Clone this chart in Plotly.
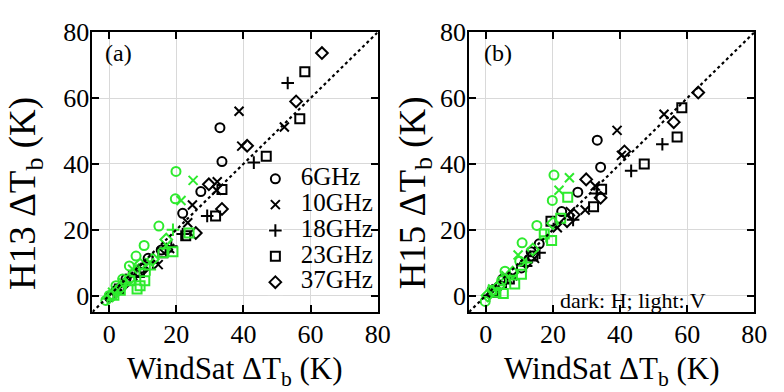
import plotly.graph_objects as go

# ---------------- data ----------------
FREQS = ["6GHz", "10GHz", "18GHz", "23GHz", "37GHz"]
SYMBOLS = ["circle-open", "x-thin-open", "cross-thin-open", "square-open", "diamond-open"]

# Panel (a): H13 vs WindSat, dark = H polarization
a_h_x = {
    "6GHz":  [33.0, 33.6, 27.3, 21.9, 15.5, 11.6, 9.7, 5.0, 2.0, 0.0],
    "10GHz": [38.7, 52.2, 39.5, 32.2, 32.0, 24.8, 23.4, 18.0, 14.6, 7.0, 3.0],
    "18GHz": [53.2, 43.1, 29.2, 21.9, 18.5, 13.0, 8.0, 2.0],
    "23GHz": [58.3, 56.8, 46.8, 33.6, 31.7, 22.8, 16.0, 9.0, 3.0],
    "37GHz": [63.4, 55.7, 41.1, 29.7, 33.6, 25.8, 17.0, 10.0, 4.0],
}
a_h_y = {
    "6GHz":  [51.0, 40.7, 31.6, 25.0, 13.8, 11.3, 8.4, 5.0, 1.5, -0.5],
    "10GHz": [56.0, 51.2, 45.4, 34.6, 32.0, 27.5, 22.1, 14.3, 9.4, 6.0, 2.0],
    "18GHz": [64.6, 40.4, 24.2, 18.7, 15.0, 10.0, 6.0, 1.0],
    "23GHz": [68.0, 53.7, 42.3, 32.2, 24.2, 18.2, 13.0, 7.0, 2.0],
    "37GHz": [73.7, 59.0, 45.5, 33.8, 26.3, 19.0, 14.0, 8.0, 3.0],
}
# Panel (a): light = V polarization
a_v_x = {
    "6GHz":  [19.9, 19.7, 14.8, 10.4, 8.0, 6.0, 4.0, 2.0, 0.0, -1.0],
    "10GHz": [25.0, 21.4, 17.0, 12.0, 7.0, 4.0, 1.0],
    "18GHz": [12.1, 19.0, 9.0, 5.0, 2.0, -0.5],
    "23GHz": [23.8, 19.0, 16.0, 10.6, 9.2, 8.3, 6.2, 3.3, 1.4],
    "37GHz": [17.0, 13.0, 9.2, 6.0, 3.0, 1.0],
}
a_v_y = {
    "6GHz":  [37.7, 29.4, 21.1, 15.2, 12.0, 9.0, 5.0, 3.0, 0.0, -1.5],
    "10GHz": [35.0, 28.9, 15.2, 10.0, 8.0, 4.0, 1.0],
    "18GHz": [7.9, 20.0, 8.0, 4.0, 1.0, -1.0],
    "23GHz": [19.0, 13.3, 13.0, 4.5, 3.0, 2.0, 4.5, 1.6, 0.1],
    "37GHz": [17.0, 11.0, 9.4, 5.0, 2.0, 0.0],
}

# Panel (b): H15 vs WindSat, dark = H polarization
b_h_x = {
    "6GHz":  [33.2, 34.2, 27.4, 22.6, 15.9, 13.5, 10.6, 5.0, 2.0],
    "10GHz": [39.1, 53.1, 40.4, 32.6, 29.6, 25.2, 21.3, 14.5, 8.0, 3.0],
    "18GHz": [52.6, 43.3, 33.0, 26.0, 16.0, 12.0, 6.0, 1.0],
    "23GHz": [58.4, 57.0, 47.2, 32.1, 34.5, 19.4, 14.0, 7.0, 2.0],
    "37GHz": [63.3, 56.0, 41.3, 29.9, 34.2, 26.2, 24.2, 12.0, 4.0],
}
b_h_y = {
    "6GHz":  [47.2, 39.0, 31.4, 25.5, 15.7, 13.3, 8.4, 5.0, 1.0],
    "10GHz": [50.2, 55.1, 42.6, 33.3, 26.0, 25.5, 20.6, 11.3, 6.0, 2.0],
    "18GHz": [46.0, 37.9, 31.0, 23.0, 13.0, 9.0, 4.0, 0.0],
    "23GHz": [57.1, 48.2, 40.0, 27.0, 32.3, 22.6, 12.0, 5.0, 1.0],
    "37GHz": [61.7, 52.7, 43.8, 35.3, 29.7, 24.5, 22.6, 10.0, 3.0],
}
# Panel (b): light = V polarization
b_v_x = {
    "6GHz":  [20.3, 19.8, 15.2, 10.8, 10.1, 5.7, 4.7, 1.8, -0.2],
    "10GHz": [24.9, 21.8, 9.6, 6.0, 2.0],
    "18GHz": [18.0, 12.0, 7.0, 3.0],
    "23GHz": [24.4, 22.3, 17.4, 19.6, 10.6, 8.6, 5.2, 3.0],
    "37GHz": [20.0, 14.0, 8.0, 4.0, 0.5],
}
b_v_y = {
    "6GHz":  [36.6, 28.9, 21.3, 16.0, 10.4, 7.4, 4.5, 1.6, -1.8],
    "10GHz": [35.8, 32.0, 12.3, 6.0, 2.0],
    "18GHz": [18.0, 10.0, 6.0, 2.0],
    "23GHz": [29.9, 23.5, 18.7, 16.7, 6.5, 3.5, 0.6, 1.0],
    "37GHz": [22.0, 14.0, 7.0, 3.0, 0.0],
}

ONE_TO_ONE = [-5, 80]
TICKS = [0, 20, 40, 60, 80]
AX_RANGE = [-5, 80]
LEGEND_ROWS = [0, 1, 2, 3, 4]

DARK = "black"
LIGHT = "#2EEA2E"
FONT = "Liberation Serif"

fig = go.Figure()

def add_panel(hx, hy, vx, vy, xa, ya):
    for f, s in zip(FREQS, SYMBOLS):
        fig.add_trace(go.Scatter(x=hx[f], y=hy[f], mode="markers", xaxis=xa, yaxis=ya,
                                 marker=dict(symbol=s, size=9, color=DARK, line=dict(width=2, color=DARK)),
                                 showlegend=False, cliponaxis=False))
    for f, s in zip(FREQS, SYMBOLS):
        fig.add_trace(go.Scatter(x=vx[f], y=vy[f], mode="markers", xaxis=xa, yaxis=ya,
                                 marker=dict(symbol=s, size=9, color=LIGHT, line=dict(width=2, color=LIGHT)),
                                 showlegend=False, cliponaxis=False))
    fig.add_trace(go.Scatter(x=ONE_TO_ONE, y=ONE_TO_ONE, mode="lines", xaxis=xa, yaxis=ya,
                             line=dict(color="black", width=2.2, dash="dot"), showlegend=False))

add_panel(a_h_x, a_h_y, a_v_x, a_v_y, "x", "y")
add_panel(b_h_x, b_h_y, b_v_x, b_v_y, "x2", "y2")

# legend (drawn as a marker+text trace on a hidden axis)
fig.add_trace(go.Scatter(x=[0] * len(FREQS), y=LEGEND_ROWS, mode="markers+text", xaxis="x3", yaxis="y3",
                         text=["   " + f for f in FREQS], textposition="middle right",
                         textfont=dict(family=FONT, size=25, color="black"),
                         marker=dict(symbol=SYMBOLS, size=9, color=DARK, line=dict(width=2, color=DARK)),
                         showlegend=False, cliponaxis=False))

W, H = 784, 392
def px(x):
    return x / W
def py(y):
    return 1 - y / H

axis_common = dict(range=AX_RANGE, tickvals=TICKS, ticks="inside", ticklen=7, tickwidth=2,
                   tickcolor="black", showline=True, linecolor="black", linewidth=2, mirror="allticks",
                   showgrid=True, gridcolor="#d9d9d9", gridwidth=1, zeroline=False,
                   tickfont=dict(family=FONT, size=26, color="black"))

fig.update_layout(
    width=W, height=H, margin=dict(l=0, r=0, t=0, b=0),
    paper_bgcolor="white", plot_bgcolor="white",
    xaxis=dict(domain=[px(94), px(384)], anchor="y", ticklabelstandoff=-2, **axis_common),
    yaxis=dict(domain=[py(309), py(19)], anchor="x", ticklabelstandoff=-4, **axis_common),
    xaxis2=dict(domain=[px(477), px(767)], anchor="y2", ticklabelstandoff=-2, **axis_common),
    yaxis2=dict(domain=[py(309), py(19)], anchor="x2", ticklabelstandoff=-4, **axis_common),
    xaxis3=dict(domain=[px(272), px(288)], range=[-1, 1], visible=False, anchor="y3"),
    yaxis3=dict(domain=[py(291.5), py(157.5)], range=[4.5, -0.5], visible=False, anchor="x3"),
    showlegend=False,
)

def note(x, y, text, size, angle=0):
    fig.add_annotation(x=px(x), y=py(y), text=text, textangle=angle, showarrow=False,
                       xref="paper", yref="paper", xanchor="center", yanchor="middle",
                       font=dict(family=FONT, size=size, color="black"))

note(239, 370, "WindSat ΔT<sub>b</sub> (K)", 31)
note(622, 370, "WindSat ΔT<sub>b</sub> (K)", 31)
note(26, 186, "H13 ΔT<sub>b</sub> (K)", 37, -90)
note(422, 186, "H15 ΔT<sub>b</sub> (K)", 37, -90)
note(120, 40, "(a)", 24)
note(506, 40, "(b)", 24)
note(644, 297, "dark: H; light: V", 22)

fig.write_html("out.html")
